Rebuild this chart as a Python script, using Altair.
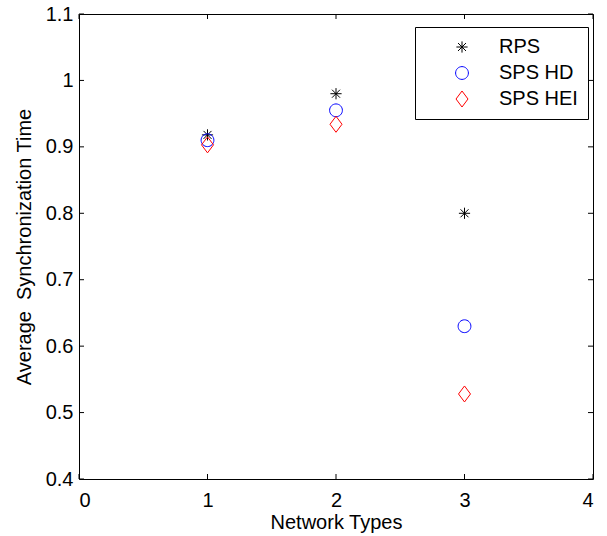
import altair as alt
import pandas as pd

# ---- data ----
network_types = [1, 2, 3]
rps = [0.918, 0.980, 0.800]
sps_hd = [0.910, 0.955, 0.630]
sps_hei = [0.903, 0.934, 0.528]
series_names = ["RPS", "SPS HD", "SPS HEI"]
x_ticks = [0, 1, 2, 3, 4]
y_ticks = [0.4, 0.5, 0.6, 0.7, 0.8, 0.9, 1.0, 1.1]

rows = []
for name, vals in zip(series_names, [rps, sps_hd, sps_hei]):
    for x, v in zip(network_types, vals):
        rows.append({"x": x, "y": v, "series": name})
df = pd.DataFrame(rows)
xt = pd.DataFrame({"t": x_ticks})
yt = pd.DataFrame({"t": y_ticks})

W, H = 514, 465
FONT = "Liberation Sans"
FS = 20
TICK = 5

asterisk = "M-0.7,0L0.7,0M0,-0.7L0,0.7M-0.5,-0.5L0.5,0.5M-0.5,0.5L0.5,-0.5"
circle = "M0.8,0A0.8,0.8,0,1,1,-0.8,0A0.8,0.8,0,1,1,0.8,0Z"
diamond = "M0,-1L0.75,0L0,1L-0.75,0Z"

xscale = alt.Scale(domain=[0, 4], nice=False, zero=False)
yscale = alt.Scale(domain=[0.4, 1.1], nice=False, zero=False)

legend_kw = dict(title=None, orient="none", legendX=336, legendY=13,
                 fillColor="white", strokeColor="black", padding=10,
                 symbolOffset=27, labelOffset=27, rowPadding=6,
                 symbolSize=256, symbolStrokeWidth=1,
                 labelFont=FONT, labelFontSize=FS, labelColor="black")

points = alt.Chart(df).mark_point(filled=False, size=256, strokeWidth=1, opacity=1).encode(
    x=alt.X("x:Q", scale=xscale,
            axis=alt.Axis(values=x_ticks, format="d", title="Network Types",
                          grid=False, ticks=False, tickSize=0, domain=False,
                          labelPadding=11, titlePadding=2)),
    y=alt.Y("y:Q", scale=yscale,
            axis=alt.Axis(values=y_ticks, format="~g", title="Average\u00a0 Synchronization Time",
                          grid=False, ticks=False, tickSize=0, domain=False,
                          labelPadding=6, titlePadding=11)),
    color=alt.Color("series:N", scale=alt.Scale(domain=series_names, range=["#000000", "#0000ff", "#ff0000"]),
                    legend=alt.Legend(**legend_kw)),
    shape=alt.Shape("series:N", scale=alt.Scale(domain=series_names, range=[asterisk, circle, diamond]),
                    legend=alt.Legend(**legend_kw)),
)

bottom_ticks = alt.Chart(xt).mark_rule(color="black", strokeWidth=1).encode(
    x=alt.X("t:Q", scale=xscale), y=alt.value(H), y2=alt.value(H - TICK))
top_ticks = alt.Chart(xt).mark_rule(color="black", strokeWidth=1).encode(
    x=alt.X("t:Q", scale=xscale), y=alt.value(0), y2=alt.value(TICK))
left_ticks = alt.Chart(yt).mark_rule(color="black", strokeWidth=1).encode(
    y=alt.Y("t:Q", scale=yscale), x=alt.value(0), x2=alt.value(TICK))
right_ticks = alt.Chart(yt).mark_rule(color="black", strokeWidth=1).encode(
    y=alt.Y("t:Q", scale=yscale), x=alt.value(W), x2=alt.value(W - TICK))

chart = alt.layer(bottom_ticks, top_ticks, left_ticks, right_ticks, points).properties(
    width=W, height=H,
    autosize=alt.AutoSizeParams(type="none"),
    padding={"left": 79, "top": 14, "right": 14, "bottom": 57},
    background="white",
).configure_view(
    stroke="black", strokeWidth=1
).configure_axis(
    labelFont=FONT, labelFontSize=FS, labelColor="black",
    titleFont=FONT, titleFontSize=FS, titleColor="black", titleFontWeight="normal",
)

chart.save("out.html", embed_options={"renderer": "svg", "actions": False})
